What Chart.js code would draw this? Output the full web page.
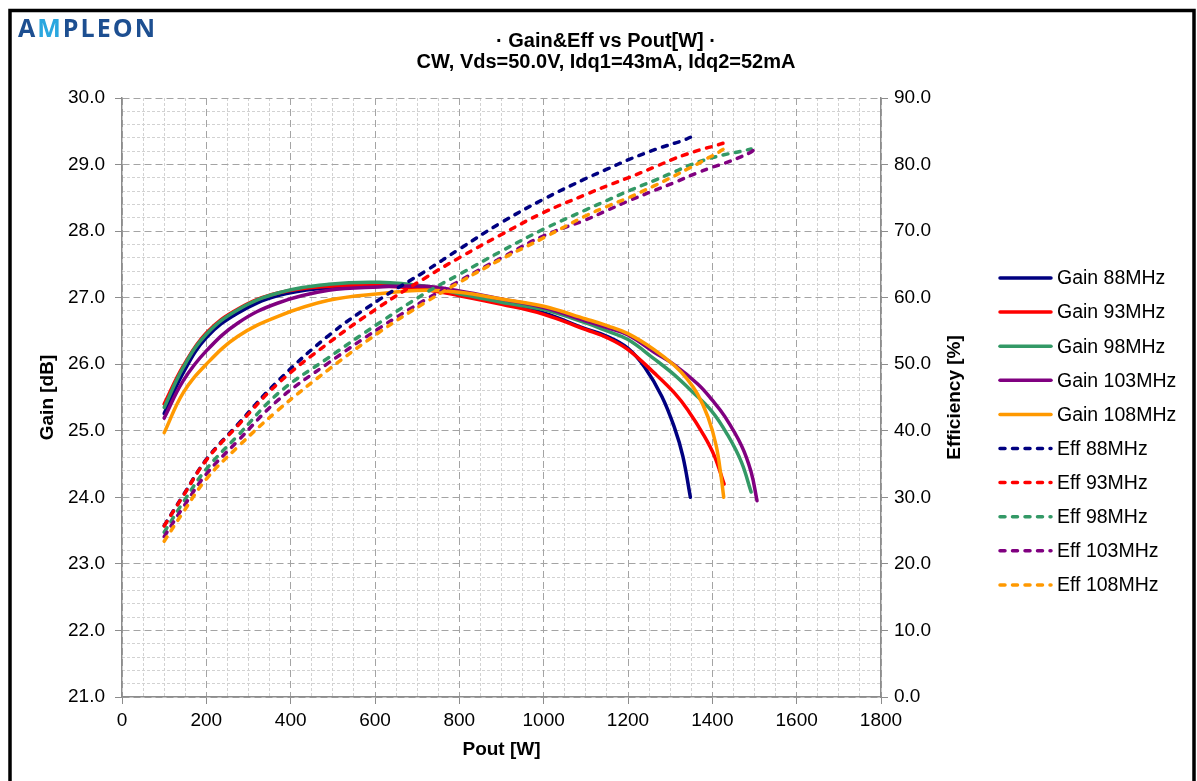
<!DOCTYPE html>
<html>
<head>
<meta charset="utf-8">
<title>Gain&amp;Eff vs Pout[W]</title>
<script src="https://cdn.jsdelivr.net/npm/chart.js@4.4.1/dist/chart.umd.min.js"></script>
<style>
  html, body { margin: 0; padding: 0; background: #fff; }
  #wrap { width: 1197px; height: 781px; }
</style>
</head>
<body>
<div id="wrap"><canvas id="chart" width="1197" height="781"></canvas></div>
<script>
// Pout sweep [W] per frequency, with gain [dB] and drain efficiency [%] at each point
const pout88 = [100, 145, 200, 275, 370, 490, 610, 720, 800, 900, 1000, 1100, 1150, 1200, 1240, 1280, 1310, 1330, 1348];
const gain88 = [25.26, 25.87, 26.40, 26.77, 27.03, 27.15, 27.20, 27.16, 27.08, 26.92, 26.77, 26.53, 26.42, 26.24, 25.95, 25.52, 25.05, 24.62, 24.00];
const eff88  = [25.75, 30.3, 35.7, 41.0, 47.5, 54.3, 59.7, 64.0, 67.3, 71.3, 74.8, 77.9, 79.3, 80.7, 81.7, 82.6, 83.2, 83.6, 84.1];

const pout93 = [100, 145, 200, 275, 370, 490, 610, 720, 800, 900, 1000, 1100, 1150, 1200, 1262, 1310, 1341, 1381, 1405, 1428];
const gain93 = [25.40, 25.97, 26.47, 26.83, 27.07, 27.17, 27.18, 27.12, 27.03, 26.90, 26.75, 26.52, 26.40, 26.22, 25.87, 25.57, 25.32, 24.92, 24.62, 24.20];
const eff93  = [25.7, 30.2, 35.6, 40.8, 47.1, 53.2, 58.6, 63.0, 66.0, 69.5, 72.8, 75.5, 76.8, 78.0, 79.6, 80.9, 81.6, 82.4, 82.8, 83.25];

const pout98 = [100, 145, 200, 275, 370, 490, 610, 720, 800, 900, 1000, 1100, 1150, 1200, 1262, 1310, 1350, 1398, 1437, 1469, 1492];
const gain98 = [25.35, 25.95, 26.45, 26.82, 27.07, 27.20, 27.23, 27.17, 27.06, 26.93, 26.82, 26.62, 26.50, 26.37, 26.08, 25.84, 25.60, 25.30, 24.93, 24.53, 24.08];
const eff98  = [24.75, 29.25, 34.25, 39.3, 45.6, 51.0, 56.2, 60.7, 63.5, 67.0, 70.3, 73.2, 74.6, 76.0, 77.6, 78.9, 80.0, 81.0, 81.6, 82.0, 82.35];

const pout103 = [100, 145, 200, 275, 370, 490, 610, 720, 800, 900, 1000, 1100, 1150, 1200, 1262, 1310, 1366, 1400, 1429, 1469, 1492, 1506];
const gain103 = [25.19, 25.75, 26.20, 26.62, 26.92, 27.11, 27.16, 27.17, 27.10, 26.98, 26.85, 26.65, 26.55, 26.44, 26.18, 25.99, 25.70, 25.46, 25.22, 24.78, 24.38, 23.95];
const eff103  = [24.1, 28.5, 33.5, 38.5, 44.6, 50.2, 55.4, 59.7, 62.5, 66.0, 69.3, 71.7, 73.1, 74.5, 76.1, 77.3, 78.8, 79.6, 80.2, 81.2, 81.9, 82.65];

const pout108 = [100, 145, 200, 275, 370, 490, 610, 720, 800, 900, 1000, 1100, 1150, 1200, 1262, 1310, 1340, 1365, 1390, 1409, 1421, 1427];
const gain108 = [24.97, 25.57, 26.00, 26.42, 26.72, 26.96, 27.06, 27.11, 27.08, 26.98, 26.87, 26.68, 26.58, 26.46, 26.22, 25.98, 25.78, 25.55, 25.20, 24.78, 24.30, 24.00];
const eff108  = [23.4, 27.75, 32.75, 37.6, 43.1, 49.2, 54.8, 59.3, 62.3, 65.8, 69.0, 72.3, 73.7, 75.0, 76.8, 78.3, 79.3, 80.1, 81.0, 81.6, 82.1, 82.35];

const freqs = ["88MHz", "93MHz", "98MHz", "103MHz", "108MHz"];
const colors = ["#000080", "#ff0000", "#339966", "#800080", "#ff9900"];

const titleLines = ["\u00b7 Gain&Eff vs Pout[W] \u00b7", "CW, Vds=50.0V, Idq1=43mA, Idq2=52mA"];

const sweeps = [
  [pout88, gain88, eff88],
  [pout93, gain93, eff93],
  [pout98, gain98, eff98],
  [pout103, gain103, eff103],
  [pout108, gain108, eff108],
];

function toPoints(xs, ys) {
  return xs.map((x, i) => ({ x: x, y: ys[i] }));
}

const datasets = [];
sweeps.forEach((s, i) => {
  datasets.push({
    label: "Gain " + freqs[i],
    data: toPoints(s[0], s[1]),
    yAxisID: "y",
    borderColor: colors[i],
    borderWidth: 3.5,
    borderCapStyle: "round",
    borderJoinStyle: "round",
    pointRadius: 0,
    tension: 0.4,
    fill: false,
  });
});
sweeps.forEach((s, i) => {
  datasets.push({
    label: "Eff " + freqs[i],
    data: toPoints(s[0], s[2]),
    yAxisID: "y1",
    borderColor: colors[i],
    borderWidth: 3.5,
    borderDash: [5, 7.5],
    borderCapStyle: "round",
    pointRadius: 0,
    tension: 0.4,
    fill: false,
  });
});
// later series sit on top, earlier ones underneath
datasets.forEach((d, i) => { d.order = datasets.length - i; });

const FONT = "Arial, 'Liberation Sans', sans-serif";

// frame, logo, title, right axis title and legend
const decorations = {
  id: "decorations",
  beforeDraw(chart) {
    const ctx = chart.ctx;
    ctx.save();
    ctx.fillStyle = "#ffffff";
    ctx.fillRect(0, 0, chart.width, chart.height);
    ctx.restore();
  },
  afterDraw(chart) {
    const ctx = chart.ctx;
    const area = chart.chartArea;
    ctx.save();

    // outer frame
    ctx.strokeStyle = "#000";
    ctx.lineWidth = 3.5;
    ctx.strokeRect(10, 10.5, 1184, 800);

    // logo, spread to fill its box
    ctx.font = "bold 25px 'Open Sans', Arial, sans-serif";
    ctx.textBaseline = "alphabetic";
    ctx.textAlign = "left";
    const logo = [["A", "#1d4f91"], ["M", "#2aa7df"], ["P", "#1d4f91"], ["L", "#1d4f91"], ["E", "#1d4f91"], ["O", "#1d4f91"], ["N", "#1d4f91"]];
    const glyphW = logo.reduce((w, [ch]) => w + ctx.measureText(ch).width, 0);
    const gap = (137 - glyphW) / (logo.length - 1);
    let lx = 18;
    logo.forEach(([ch, col]) => {
      ctx.fillStyle = col;
      ctx.fillText(ch, lx, 37);
      lx += ctx.measureText(ch).width + gap;
    });

    // title
    ctx.fillStyle = "#000";
    ctx.font = "bold 20px " + FONT;
    ctx.textAlign = "center";
    ctx.textBaseline = "middle";
    ctx.fillText(titleLines[0], 606, 41);
    ctx.fillText(titleLines[1], 606, 62);

    // right axis title, reading upwards
    ctx.save();
    ctx.translate(955, (area.top + area.bottom) / 2);
    ctx.rotate(-Math.PI / 2);
    ctx.font = "bold 19px " + FONT;
    ctx.fillText("Efficiency [%]", 0, 0);
    ctx.restore();

    // legend
    ctx.font = "19.5px " + FONT;
    ctx.textAlign = "left";
    ctx.textBaseline = "middle";
    chart.data.datasets.forEach((d, i) => {
      const y = 278 + i * 34.1;
      ctx.save();
      ctx.strokeStyle = d.borderColor;
      ctx.lineWidth = d.borderWidth;
      ctx.lineCap = "round";
      ctx.setLineDash(d.borderDash || []);
      ctx.beginPath();
      ctx.moveTo(1000, y);
      ctx.lineTo(1051, y);
      ctx.stroke();
      ctx.restore();
      ctx.fillStyle = "#000";
      ctx.fillText(d.label, 1057, y + 1);
    });

    ctx.restore();
  },
};

const gridMajor = "#a4a4a4";
const gridMinor = "#d2d2d2";
const axisLine = "#8c8c8c";

new Chart(document.getElementById("chart"), {
  type: "line",
  data: { datasets: datasets },
  options: {
    responsive: false,
    animation: false,
    devicePixelRatio: 1,
    layout: { padding: { left: 0, top: 98, right: 216, bottom: 0 } },
    plugins: {
      legend: { display: false },
      title: { display: false },
      tooltip: { enabled: false },
    },
    scales: {
      x: {
        type: "linear",
        position: "bottom",
        min: 0,
        max: 1800,
        weight: 1,
        ticks: {
          stepSize: 200,
          color: "#000",
          font: { size: 19, family: FONT },
          padding: 5,
          maxRotation: 0,
          callback: (v) => String(v),
        },
        grid: { color: gridMajor, lineWidth: 1, tickLength: 7, tickColor: axisLine, z: -1 },
        border: { display: true, color: axisLine, width: 1.5, dash: [7, 4] },
        title: {
          display: true,
          text: "Pout [W]",
          color: "#000",
          font: { size: 19, weight: "bold", family: FONT },
          padding: { top: 0, bottom: 20 },
        },
        afterFit: (s) => { s.height = 84; },
      },
      xMinor: {
        type: "linear",
        position: "bottom",
        min: 0,
        max: 1800,
        weight: 2,
        ticks: { display: false, stepSize: 50 },
        grid: {
          color: (c) => (c.tick && c.tick.value % 200 === 0 ? "rgba(0,0,0,0)" : gridMinor),
          drawTicks: false,
          z: -2,
        },
        border: { display: false, dash: [3, 2] },
        afterFit: (s) => { s.height = 0; },
      },
      y: {
        type: "linear",
        position: "left",
        min: 21,
        max: 30,
        weight: 1,
        ticks: {
          stepSize: 1,
          color: "#000",
          font: { size: 19, family: FONT },
          padding: 10,
          callback: (v) => v.toFixed(1),
        },
        grid: { color: gridMajor, lineWidth: 1, tickLength: 7, tickColor: axisLine, z: -1 },
        border: { display: true, color: axisLine, width: 1.5, dash: [7, 4] },
        title: {
          display: true,
          text: "Gain [dB]",
          color: "#000",
          font: { size: 19, weight: "bold", family: FONT },
          padding: { top: 36, bottom: 0 },
        },
        afterFit: (s) => { s.width = 122; },
      },
      yMinor: {
        type: "linear",
        position: "left",
        min: 21,
        max: 30,
        weight: 2,
        ticks: { display: false, stepSize: 0.2 },
        grid: {
          color: (c) => {
            if (!c.tick) return gridMinor;
            const v = c.tick.value;
            return Math.abs(v - Math.round(v)) < 1e-6 ? "rgba(0,0,0,0)" : gridMinor;
          },
          drawTicks: false,
          z: -2,
        },
        border: { display: false, dash: [3, 2] },
        afterFit: (s) => { s.width = 0; },
      },
      y1: {
        type: "linear",
        position: "right",
        min: 0,
        max: 90,
        ticks: {
          stepSize: 10,
          color: "#000",
          font: { size: 19, family: FONT },
          padding: 6,
          callback: (v) => v.toFixed(1),
        },
        grid: { drawOnChartArea: false, tickLength: 7, tickColor: axisLine },
        border: { display: true, color: axisLine, width: 1.5 },
        afterFit: (s) => { s.width = 100; },
      },
    },
  },
  plugins: [decorations],
});
</script>
</body>
</html>
